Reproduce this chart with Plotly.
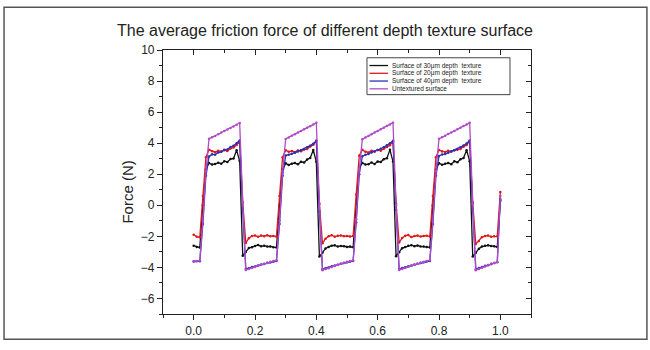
import plotly.graph_objects as go

x_vals = [0.00, 0.01, 0.02, 0.03, 0.04, 0.05, 0.06, 0.07, 0.08, 0.09,
          0.10, 0.11, 0.12, 0.13, 0.14, 0.15, 0.16, 0.17, 0.18, 0.19,
          0.20, 0.21, 0.22, 0.23, 0.24, 0.25, 0.26, 0.27, 0.28, 0.29,
          0.30, 0.31, 0.32, 0.33, 0.34, 0.35, 0.36, 0.37, 0.38, 0.39,
          0.40, 0.41, 0.42, 0.43, 0.44, 0.45, 0.46, 0.47, 0.48, 0.49,
          0.50, 0.51, 0.52, 0.53, 0.54, 0.55, 0.56, 0.57, 0.58, 0.59,
          0.60, 0.61, 0.62, 0.63, 0.64, 0.65, 0.66, 0.67, 0.68, 0.69,
          0.70, 0.71, 0.72, 0.73, 0.74, 0.75, 0.76, 0.77, 0.78, 0.79,
          0.80, 0.81, 0.82, 0.83, 0.84, 0.85, 0.86, 0.87, 0.88, 0.89,
          0.90, 0.91, 0.92, 0.93, 0.94, 0.95, 0.96, 0.97, 0.98, 0.99,
          1.00]

depth30_black = [-2.60, -2.68, -2.72, 0.0, 2.3,
                 2.72, 2.62, 2.66, 2.74, 2.68, 2.84, 2.78, 2.98, 3.02, 3.55, 2.85,
                 -3.25,
                 -3.00, -2.75, -2.70, -2.62, -2.55, -2.64, -2.60, -2.66,
                 -2.65, -2.70, -2.72, 0.0, 2.3,
                 2.70, 2.60, 2.68, 2.72, 2.64, 2.80, 2.76, 2.95, 3.05, 3.56, 2.80,
                 -3.30,
                 -3.05, -2.78, -2.68, -2.60, -2.58, -2.66, -2.62, -2.64,
                 -2.68, -2.66, -2.70, 0.1, 2.4,
                 2.73, 2.62, 2.65, 2.76, 2.66, 2.82, 2.79, 2.97, 3.03, 3.57, 2.82,
                 -3.28,
                 -3.02, -2.76, -2.69, -2.61, -2.57, -2.63, -2.59, -2.65,
                 -2.66, -2.68, -2.71, 0.0, 2.3,
                 2.71, 2.61, 2.67, 2.73, 2.65, 2.83, 2.77, 2.96, 3.04, 3.55, 2.84,
                 -3.30,
                 -3.05, -2.80, -2.66, -2.60, -2.58, -2.62, -2.64, -2.68,
                 0.3]

depth20_red = [-1.90, -2.02, -2.05, 0.6, 3.1,
               3.58, 3.48, 3.42, 3.52, 3.46, 3.55, 3.50, 3.66, 3.72, 3.88, 4.12,
               0.2,
               -2.42, -2.12, -1.98, -1.94, -2.03, -1.95, -1.99, -1.93,
               -2.00, -1.97, -2.02, 0.6, 3.1,
               3.55, 3.44, 3.50, 3.42, 3.53, 3.48, 3.60, 3.62, 3.78, 3.90, 4.15,
               0.1,
               -2.45, -2.15, -2.00, -1.93, -2.02, -1.96, -1.94, -2.00,
               -1.97, -2.01, -1.98, 0.7, 3.2,
               3.57, 3.45, 3.40, 3.51, 3.47, 3.56, 3.52, 3.64, 3.75, 3.86, 4.10,
               0.1,
               -2.40, -2.10, -1.96, -1.92, -2.04, -1.97, -1.95, -2.01,
               -1.98, -1.96, -2.01, 0.6, 3.1,
               3.56, 3.47, 3.43, 3.52, 3.46, 3.54, 3.58, 3.63, 3.77, 3.88, 4.13,
               0.2,
               -2.50, -2.30, -2.05, -1.98, -1.95, -2.02, -1.99, -2.00,
               0.85]

depth40_blue = [-3.62, -3.60, -3.60, -1.2, 1.9,
                3.15, 3.28, 3.26, 3.40, 3.44, 3.58, 3.60, 3.75, 3.83, 4.00, 4.18,
                -0.3,
                -4.10, -4.05, -3.98, -3.94, -3.88, -3.82, -3.78, -3.72,
                -3.68, -3.63, -3.58, -1.2, 1.9,
                3.20, 3.25, 3.32, 3.38, 3.47, 3.55, 3.63, 3.74, 3.84, 3.97, 4.15,
                -0.4,
                -4.12, -4.05, -4.00, -3.93, -3.88, -3.83, -3.77, -3.72,
                -3.67, -3.62, -3.58, -1.1, 2.0,
                3.16, 3.26, 3.31, 3.40, 3.46, 3.56, 3.64, 3.73, 3.86, 3.99, 4.16,
                -0.3,
                -4.10, -4.04, -3.99, -3.93, -3.87, -3.81, -3.76, -3.71,
                -3.66, -3.62, -3.58, -1.2, 1.9,
                3.18, 3.27, 3.30, 3.39, 3.47, 3.54, 3.63, 3.74, 3.85, 3.98, 4.17,
                -0.3,
                -4.12, -4.04, -3.97, -3.90, -3.84, -3.77, -3.71, -3.66,
                0.4]

untextured_purple = [-3.60, -3.58, -3.56, -1.0, 2.2,
                     4.28, 4.38, 4.47, 4.58, 4.68, 4.78, 4.88, 4.98, 5.08, 5.19, 5.30,
                     0.2,
                     -4.17, -4.10, -4.04, -3.97, -3.90, -3.83, -3.76, -3.69,
                     -3.63, -3.58, -3.54, -1.0, 2.2,
                     4.27, 4.37, 4.48, 4.58, 4.69, 4.78, 4.89, 4.99, 5.09, 5.20, 5.31,
                     0.1,
                     -4.18, -4.11, -4.05, -3.98, -3.91, -3.84, -3.77, -3.70,
                     -3.64, -3.59, -3.55, -0.9, 2.3,
                     4.26, 4.37, 4.47, 4.58, 4.68, 4.79, 4.89, 4.99, 5.10, 5.20, 5.32,
                     0.0,
                     -4.16, -4.10, -4.03, -3.96, -3.90, -3.83, -3.76, -3.69,
                     -3.63, -3.58, -3.54, -1.0, 2.2,
                     4.28, 4.38, 4.48, 4.59, 4.69, 4.79, 4.89, 5.00, 5.10, 5.20, 5.31,
                     0.1,
                     -4.18, -4.10, -4.02, -3.94, -3.86, -3.79, -3.72, -3.65,
                     0.6]

series_names = ["Surface of 30\u03bcm depth  texture",
                "Surface of 20\u03bcm depth  texture",
                "Surface of 40\u03bcm depth  texture",
                "Untextured surface"]
series_values = [depth30_black, depth20_red, depth40_blue, untextured_purple]
series_colors = ["#111111", "#e01818", "#2f2fb8", "#b04cc8"]

x_ticks = [0.0, 0.2, 0.4, 0.6, 0.8, 1.0]
y_ticks = [-6, -4, -2, 0, 2, 4, 6, 8, 10]

FONT = "Liberation Sans, Arial, sans-serif"

fig = go.Figure()
for name, vals, col in zip(series_names, series_values, series_colors):
    fig.add_trace(go.Scatter(
        x=x_vals, y=vals, name=name, mode="lines+markers",
        line=dict(color=col, width=1.3),
        marker=dict(color=col, size=2.5),
        showlegend=False,
    ))

# invisible helper trace so mirrored axes (top/right, inside ticks) are drawn
fig.add_trace(go.Scatter(x=[None], y=[None], xaxis="x2", yaxis="y2",
                         showlegend=False, hoverinfo="skip"))

axis_common = dict(showgrid=False, zeroline=False, showline=True,
                   linecolor="#222", linewidth=1.2, tickcolor="#222")

fig.update_layout(
    width=650, height=350,
    margin=dict(l=163, r=119, t=50, b=28),
    paper_bgcolor="white", plot_bgcolor="white",
    font=dict(family=FONT, color="#222", size=12),
    title=dict(text="The average friction force of different depth texture surface",
               x=0.5, xanchor="center", y=0.914, yanchor="middle",
               font=dict(size=16, family=FONT, color="#222")),
    xaxis=dict(range=[-0.1, 1.1], tickvals=x_ticks, tickformat=".1f",
               ticks="outside", ticklen=5, tickwidth=1.2,
               minor=dict(dtick=0.1, tick0=0, ticks="outside", ticklen=3,
                          tickcolor="#222"),
               tickfont=dict(size=12), **axis_common),
    yaxis=dict(range=[-7, 10], tickvals=y_ticks,
               ticks="outside", ticklen=5, tickwidth=1.2,
               minor=dict(dtick=1, tick0=0, ticks="outside", ticklen=3,
                          tickcolor="#222"),
               tickfont=dict(size=12), **axis_common),
    xaxis2=dict(range=[-0.1, 1.1], overlaying="x", side="top", anchor="y",
                tickvals=x_ticks, showticklabels=False,
                ticks="inside", ticklen=5, tickwidth=1.2,
                minor=dict(dtick=0.1, tick0=0, ticks="inside", ticklen=3,
                           tickcolor="#222"),
                **axis_common),
    yaxis2=dict(range=[-7, 10], overlaying="y", side="right", anchor="x",
                tickvals=y_ticks, showticklabels=False,
                ticks="inside", ticklen=5, tickwidth=1.2,
                minor=dict(dtick=1, tick0=0, ticks="inside", ticklen=3,
                           tickcolor="#222"),
                **axis_common),
    showlegend=False,
)

fig.add_annotation(text="Force (N)", textangle=-90, showarrow=False,
                   xref="paper", yref="paper", x=-0.095, y=0.46,
                   xanchor="center", yanchor="middle",
                   font=dict(size=15, family=FONT, color="#222"))

# compact legend box (Origin style): frame, short line samples and labels
legend_box = dict(x0=0.5543, x1=0.9429, y0=0.8309, y1=0.9706)
legend_rows_y = [0.9412, 0.9118, 0.8824, 0.8529]
fig.add_shape(type="rect", xref="paper", yref="paper",
              line=dict(color="#444", width=1), fillcolor="white",
              layer="above", **legend_box)
for name, col, ry in zip(series_names, series_colors, legend_rows_y):
    fig.add_shape(type="line", xref="paper", yref="paper",
                  x0=0.5611, x1=0.6114, y0=ry, y1=ry,
                  line=dict(color=col, width=1.3), layer="above")
    fig.add_annotation(text=name, showarrow=False, xref="paper", yref="paper",
                       x=0.6155, y=ry, xanchor="left", yanchor="middle",
                       font=dict(size=6.5, family=FONT, color="#222"))

# outer frame around the whole figure
fig.add_shape(type="rect", xref="paper", yref="paper",
              x0=-0.432, x1=1.315, y0=-0.096, y1=1.162,
              line=dict(color="#555", width=1.5), fillcolor="rgba(0,0,0,0)",
              layer="below")

fig.write_html("out.html")
